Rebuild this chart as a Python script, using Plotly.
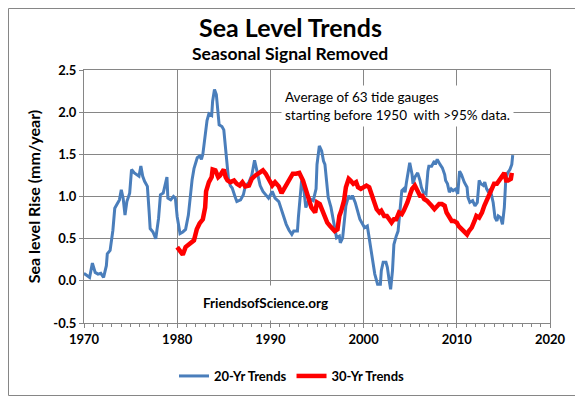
import plotly.graph_objects as go

# 20-year trends (blue)
years_20 = [1970.0, 1970.1, 1970.35, 1970.6, 1970.9, 1971.2, 1971.5, 1971.8, 1972.1, 1972.4, 1972.5, 1972.8,
            1973.1, 1973.3, 1973.6, 1973.8, 1974.0, 1974.2, 1974.4, 1974.6, 1974.9, 1975.1, 1975.4, 1975.6,
            1975.9, 1976.1, 1976.3, 1976.5, 1976.8, 1977.0, 1977.1, 1977.4, 1977.7, 1978.0, 1978.2, 1978.5,
            1978.7, 1978.9, 1979.0, 1979.3, 1979.6, 1979.8, 1980.0, 1980.3, 1980.6, 1980.9, 1981.2, 1981.4,
            1981.6, 1981.8, 1982.0, 1982.15, 1982.4, 1982.6, 1982.75, 1983.0, 1983.2, 1983.4, 1983.7, 1983.8,
            1984.0, 1984.2, 1984.4, 1984.5, 1984.8, 1985.0, 1985.2, 1985.4, 1985.5, 1985.7, 1985.9, 1986.2,
            1986.4, 1986.8, 1987.1, 1987.3, 1987.7, 1988.0, 1988.2, 1988.3, 1988.5, 1988.7, 1988.9, 1989.2,
            1989.5, 1989.8, 1990.2, 1990.5, 1990.9, 1991.2, 1991.4, 1991.7, 1992.0, 1992.3, 1992.5, 1992.9,
            1993.0, 1993.2, 1993.35, 1993.6, 1993.8, 1994.1, 1994.3, 1994.6, 1994.9, 1995.0, 1995.25, 1995.5,
            1995.7, 1995.85, 1996.0, 1996.2, 1996.5, 1996.7, 1996.9, 1997.1, 1997.4, 1997.5, 1997.75, 1997.9,
            1998.1, 1998.4, 1998.6, 1998.8, 1999.1, 1999.3, 1999.6, 1999.9, 2000.1, 2000.4, 2000.6, 2000.8,
            2001.0, 2001.2, 2001.5, 2001.8, 2001.9, 2002.1, 2002.4, 2002.55, 2002.75, 2002.9, 2003.1, 2003.25,
            2003.5, 2003.7, 2003.9, 2004.1, 2004.3, 2004.45, 2004.6, 2004.95, 2005.2, 2005.3, 2005.5, 2005.8,
            2006.05, 2006.2, 2006.4, 2006.7, 2006.9, 2007.0, 2007.3, 2007.6, 2007.7, 2007.9, 2008.2, 2008.45,
            2008.7, 2008.8, 2009.0, 2009.2, 2009.4, 2009.6, 2009.9, 2010.1, 2010.3, 2010.5, 2010.8, 2011.1,
            2011.2, 2011.4, 2011.7, 2011.95, 2012.2, 2012.4, 2012.6, 2012.85, 2013.0, 2013.2, 2013.4, 2013.6,
            2013.7, 2013.9, 2014.1, 2014.3, 2014.45, 2014.7, 2014.9, 2015.1, 2015.25, 2015.45, 2015.7, 2015.9,
            2016.0]
trend_20 = [0.08, 0.08, 0.06, 0.04, 0.21, 0.10, 0.08, 0.09, 0.04, 0.18, 0.32, 0.36,
            0.60, 0.86, 0.92, 0.96, 1.08, 0.98, 0.78, 0.94, 1.04, 1.32, 1.28, 1.26,
            1.24, 1.36, 1.24, 1.18, 1.12, 0.80, 0.62, 0.58, 0.50, 0.74, 1.02, 1.04,
            1.12, 1.23, 0.98, 0.96, 1.00, 0.98, 0.76, 0.56, 0.58, 0.61, 0.78, 1.00,
            1.20, 1.33, 1.40, 1.46, 1.48, 1.44, 1.50, 1.75, 1.90, 1.98, 1.96, 2.13,
            2.27, 2.21, 1.94, 1.85, 1.83, 1.79, 1.56, 1.33, 1.21, 1.13, 1.10, 1.00,
            0.94, 0.96, 1.02, 1.12, 1.17, 1.25, 1.35, 1.43, 1.33, 1.21, 1.13, 1.06,
            1.02, 0.98, 1.06, 0.98, 0.94, 0.83, 0.75, 0.67, 0.60, 0.55, 0.59, 0.59,
            0.75, 0.99, 1.19, 1.07, 0.87, 0.95, 0.97, 0.95, 1.09, 1.38, 1.60, 1.54,
            1.42, 1.38, 1.19, 0.99, 0.87, 0.75, 0.59, 0.51, 0.53, 0.45, 0.51, 0.71,
            0.89, 1.01, 0.97, 1.01, 0.93, 0.85, 0.73, 0.67, 0.63, 0.65, 0.51, 0.36,
            0.20, 0.08, -0.04, -0.04, 0.12, 0.22, 0.22, 0.16, 0.00, -0.10, 0.12, 0.43,
            0.53, 0.59, 0.83, 1.07, 1.09, 1.05, 1.17, 1.40, 1.26, 1.15, 1.23, 1.28,
            1.19, 1.11, 1.05, 1.03, 1.30, 1.36, 1.36, 1.42, 1.38, 1.44, 1.38, 1.34,
            1.26, 1.19, 1.15, 1.05, 1.09, 1.07, 1.09, 1.03, 1.30, 1.26, 1.17, 1.11,
            0.99, 0.93, 0.95, 0.89, 0.93, 1.19, 1.15, 1.13, 1.17, 1.09, 1.05, 1.09,
            1.03, 0.93, 0.75, 0.71, 0.77, 0.75, 0.67, 0.87, 1.19, 1.28, 1.32, 1.38,
            1.49]

# 30-year trends (red)
years_30 = [1980.0, 1980.3, 1980.6, 1980.9, 1981.2, 1981.5, 1981.8, 1982.1, 1982.4, 1982.75, 1983.0, 1983.1,
            1983.4, 1983.7, 1983.8, 1984.1, 1984.4, 1984.6, 1984.8, 1985.0, 1985.2, 1985.4, 1985.7, 1986.1,
            1986.4, 1986.7, 1987.0, 1987.3, 1987.7, 1988.0, 1988.4, 1988.75, 1989.2, 1989.5, 1989.8, 1990.2,
            1990.5, 1990.9, 1991.2, 1991.4, 1991.8, 1992.1, 1992.4, 1992.75, 1993.1, 1993.5, 1993.8, 1994.1,
            1994.4, 1994.8, 1995.0, 1995.3, 1995.6, 1995.85, 1996.1, 1996.4, 1996.7, 1996.9, 1997.2, 1997.4,
            1997.6, 1997.9, 1998.1, 1998.4, 1998.6, 1998.9, 1999.2, 1999.4, 1999.7, 1999.95, 2000.3, 2000.6,
            2000.9, 2001.1, 2001.4, 2001.7, 2001.9, 2002.2, 2002.5, 2002.75, 2003.0, 2003.25, 2003.5, 2003.8,
            2004.1, 2004.3, 2004.5, 2004.7, 2005.0, 2005.2, 2005.5, 2005.8, 2006.05, 2006.3, 2006.5, 2006.8,
            2007.0, 2007.3, 2007.6, 2007.85, 2008.1, 2008.4, 2008.7, 2008.9, 2009.2, 2009.45, 2009.7, 2010.0,
            2010.2, 2010.5, 2010.8, 2011.1, 2011.3, 2011.6, 2011.9, 2012.1, 2012.4, 2012.7, 2012.95, 2013.2,
            2013.45, 2013.7, 2014.0, 2014.3, 2014.5, 2014.8, 2015.1, 2015.3, 2015.5, 2015.8, 2015.9]
trend_30 = [0.40, 0.36, 0.31, 0.40, 0.43, 0.45, 0.48, 0.61, 0.68, 0.73, 0.87, 1.06,
            1.17, 1.23, 1.32, 1.31, 1.23, 1.25, 1.30, 1.32, 1.23, 1.19, 1.17, 1.19,
            1.15, 1.13, 1.17, 1.12, 1.13, 1.21, 1.25, 1.27, 1.31, 1.27, 1.21, 1.13,
            1.17, 1.12, 1.04, 1.08, 1.15, 1.22, 1.27, 1.27, 1.28, 1.19, 1.07, 0.99,
            0.87, 0.81, 0.93, 0.91, 0.83, 0.77, 0.69, 0.65, 0.61, 0.59, 0.61, 0.77,
            0.83, 0.95, 1.11, 1.21, 1.19, 1.15, 1.17, 1.11, 1.09, 1.11, 1.13, 1.11,
            1.01, 0.93, 0.85, 0.81, 0.83, 0.77, 0.77, 0.73, 0.69, 0.73, 0.73, 0.81,
            0.79, 0.83, 0.87, 0.93, 1.03, 1.09, 1.13, 1.07, 1.01, 1.01, 0.97, 0.95,
            0.93, 0.89, 0.85, 0.89, 0.91, 0.91, 0.89, 0.81, 0.75, 0.71, 0.71, 0.69,
            0.65, 0.61, 0.57, 0.55, 0.59, 0.63, 0.71, 0.77, 0.75, 0.81, 0.89, 0.95,
            1.03, 1.09, 1.15, 1.15, 1.19, 1.23, 1.28, 1.19, 1.19, 1.21, 1.28]

x_ticks = [1970, 1980, 1990, 2000, 2010, 2020]
y_ticks = [-0.5, 0.0, 0.5, 1.0, 1.5, 2.0, 2.5]
y_tick_labels = ["-0.5", "0.0", "0.5", "1.0", "1.5", "2.0", "2.5"]

FONT = "Lato"
GRID = "#868686"

fig = go.Figure()
fig.add_trace(go.Scatter(x=years_20, y=trend_20, mode="lines", name="20-Yr Trends",
                         line=dict(color="#4A7EBB", width=3)))
fig.add_trace(go.Scatter(x=years_30, y=trend_30, mode="lines", name="30-Yr Trends",
                         line=dict(color="#FF0000", width=4.5)))

# The page body has an 8px margin, so the figure starts at page (8, 8).
OFF = 8
W, H = 575, 390
L, R, T, B = 76, 33, 62, 75
pw, ph = W - L - R, H - T - B

def px2paper_x(px):
    return (px - OFF - L) / pw

def px2paper_y(py):
    return (H - B - (py - OFF)) / ph

fig.update_layout(
    width=W, height=H,
    margin=dict(l=L, r=R, t=T, b=B, autoexpand=False),
    paper_bgcolor="white", plot_bgcolor="white",
    font=dict(family=FONT, color="black"),
    showlegend=True,
    legend=dict(orientation="h", x=px2paper_x(292), xanchor="center", y=px2paper_y(376), yanchor="middle",
                font=dict(family=FONT, size=13, color="black", weight="bold"),
                itemwidth=30, tracegroupgap=0, bgcolor="rgba(0,0,0,0)"),
    xaxis=dict(range=[1970, 2020], tickvals=x_ticks, ticktext=[str(v) for v in x_ticks],
               showgrid=True, gridcolor=GRID, gridwidth=1,
               showline=True, linecolor=GRID, linewidth=1, mirror=True,
               ticks="outside", ticklen=4, tickcolor=GRID,
               minor=dict(dtick=1, ticks="outside", ticklen=3, tickcolor=GRID, showgrid=False),
               tickfont=dict(family=FONT, size=13, color="black", weight="bold"),
               zeroline=False, fixedrange=True, automargin=False),
    yaxis=dict(range=[-0.5, 2.5], tickvals=y_ticks, ticktext=y_tick_labels,
               showgrid=True, gridcolor=GRID, gridwidth=1,
               showline=True, linecolor=GRID, linewidth=1, mirror=True,
               ticks="outside", ticklen=4, tickcolor=GRID,
               tickfont=dict(family=FONT, size=13, color="black", weight="bold"),
               title=dict(text="Sea level Rise (mm/year)", standoff=8,
                          font=dict(family=FONT, size=16, color="black", weight="bold")),
               zeroline=False, fixedrange=True, automargin=False),
)

# Titles
fig.add_annotation(text="<b>Sea Level Trends</b>", xref="paper", yref="paper",
                   x=px2paper_x(290), y=px2paper_y(27), xanchor="center", yanchor="middle",
                   showarrow=False, font=dict(family=FONT, size=25, color="black"))
fig.add_annotation(text="<b>Seasonal Signal Removed</b>", xref="paper", yref="paper",
                   x=px2paper_x(290), y=px2paper_y(54), xanchor="center", yanchor="middle",
                   showarrow=False, font=dict(family=FONT, size=17.5, color="black"))

# Info box
fig.add_annotation(text="Average of 63 tide gauges<br>starting before 1950  with >95% data.",
                   xref="paper", yref="paper", x=px2paper_x(281), y=px2paper_y(106),
                   xanchor="left", yanchor="middle", align="left", showarrow=False,
                   bgcolor="white", borderpad=3,
                   font=dict(family=FONT, size=13.5, color="black"))

# Source box
fig.add_annotation(text="<b>FriendsofScience.org</b>", xref="paper", yref="paper",
                   x=px2paper_x(265), y=px2paper_y(303), xanchor="center", yanchor="middle",
                   showarrow=False, bgcolor="white", width=165, height=32,
                   font=dict(family=FONT, size=13.5, color="black"))

# Outer chart border (as close to the page edge as the figure allows)
fig.add_shape(type="rect", xref="paper", yref="paper",
              x0=px2paper_x(OFF + 0.5), x1=px2paper_x(580.5), y0=px2paper_y(395.5), y1=px2paper_y(OFF + 0.5),
              line=dict(color="#868686", width=1), fillcolor="rgba(0,0,0,0)", layer="above")

fig.write_html("out.html")
